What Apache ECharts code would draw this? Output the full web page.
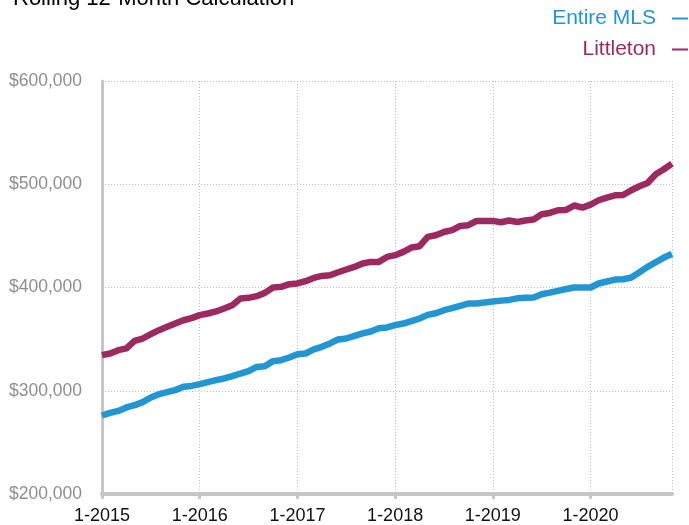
<!DOCTYPE html>
<html>
<head>
<meta charset="utf-8">
<script src="https://cdn.jsdelivr.net/npm/echarts@6/dist/echarts.min.js"></script>
<style>
html,body{margin:0;padding:0;background:#fff;}
#chart{width:689px;height:525px;}
</style>
</head>
<body>
<div id="chart"></div>
<script>
// Month categories 1-2015 .. 11-2020
var years = [2015, 2016, 2017, 2018, 2019, 2020];
var lastMonth = 11;
var categories = [];
years.forEach(function (y) {
  for (var m = 1; m <= 12; m++) {
    if (y === 2020 && m > lastMonth) break;
    categories.push(m + '-' + y);
  }
});

var seriesNames = ['Entire MLS', 'Littleton'];

var entireMLS = [
  276000, 278600, 280500, 283800, 286000, 289000, 293500, 296700, 298600, 300600, 303800, 304700,
  306400, 308300, 310300, 311900, 314100, 316700, 319000, 323100, 323800, 328700, 329600, 332200,
  335400, 336100, 340000, 342500, 345800, 349700, 350600, 353100, 355500, 357400, 360600, 361300,
  363500, 365100, 367400, 370000, 373500, 375100, 378000, 380000, 382200, 384500, 384500, 385500,
  386500, 387300, 388000, 389500, 390000, 390300, 393500, 395000, 396800, 398500, 400000, 400000,
  400000, 403900, 405800, 407700, 408000, 409700, 414800, 420000, 424500, 429000, 432500
];

var littleton = [
  334500, 336100, 339300, 341000, 348300, 350600, 354800, 358700, 361900, 365200, 368300, 370300,
  373200, 374800, 376800, 379700, 382900, 389400, 390000, 391600, 394800, 400000, 400600, 403200,
  403900, 406100, 409300, 411200, 411900, 414800, 417400, 419900, 423200, 424800, 424800, 429600,
  431300, 434500, 438700, 440000, 449000, 450600, 453800, 455500, 459600, 460300, 464500, 464500,
  464500, 463200, 464900, 463500, 464900, 465800, 471000, 472200, 474800, 475100, 479400, 477400,
  480300, 484500, 487100, 489300, 489600, 494200, 498100, 501300, 509700, 514500, 520000
];

var yTicks = [200000, 300000, 400000, 500000, 600000];

var BLUE = '#2196d3';
var MAROON = '#9c2a60';
var FONT = "'Liberation Sans', Arial, Helvetica, sans-serif";

function isJan(i) { return i % 12 === 0; }

var chart = echarts.init(document.getElementById('chart'), null, {renderer: 'canvas'});
chart.setOption({
  animation: false,
  backgroundColor: '#ffffff',
  textStyle: {fontFamily: FONT},
  title: {
    text: 'Rolling 12-Month Calculation',
    left: 8,
    top: -17,
    textStyle: {fontSize: 22, fontWeight: 'normal', color: '#000', fontFamily: FONT}
  },
  legend: {
    orient: 'vertical',
    right: 1,
    top: 8,
    padding: 0,
    align: 'right',
    itemGap: 10,
    itemWidth: 16,
    itemHeight: 2,
    icon: 'rect',
    selectedMode: false,
    data: [
      {name: seriesNames[0], textStyle: {color: BLUE}},
      {name: seriesNames[1], textStyle: {color: MAROON}}
    ],
    textStyle: {fontSize: 21, fontFamily: FONT, lineHeight: 21, padding: [0, 11, 0, 0]}
  },
  grid: {left: 102, right: 17, top: 81, bottom: 31, containLabel: false},
  xAxis: {
    type: 'category',
    data: categories,
    boundaryGap: false,
    axisLine: {show: true, lineStyle: {color: '#c6c6c6', width: 4}},
    axisTick: {
      show: true,
      interval: function (i) { return isJan(i); },
      length: 5,
      lineStyle: {color: '#c6c6c6', width: 3}
    },
    axisLabel: {
      interval: function (i) { return isJan(i); },
      color: '#111',
      fontSize: 18,
      fontFamily: FONT,
      margin: 13
    },
    splitLine: {
      show: true,
      interval: function (i) { return isJan(i) || i === categories.length - 1; },
      lineStyle: {color: '#bdbdbd', width: 1, type: [1, 2]}
    }
  },
  yAxis: {
    type: 'value',
    min: yTicks[0],
    max: yTicks[yTicks.length - 1],
    interval: 100000,
    axisLine: {show: true, lineStyle: {color: '#c6c6c6', width: 3}},
    axisTick: {show: false},
    axisLabel: {
      color: '#8e8e8e',
      fontSize: 17.5,
      fontFamily: FONT,
      margin: 20,
      formatter: function (v) { return '$' + v.toLocaleString('en-US'); }
    },
    splitLine: {show: true, lineStyle: {color: '#bdbdbd', width: 1, type: [1, 2]}}
  },
  series: [
    {
      name: seriesNames[0],
      type: 'line',
      data: entireMLS,
      showSymbol: false,
      symbol: 'none',
      color: BLUE,
      lineStyle: {width: 6.5, color: BLUE, join: 'round', cap: 'butt'},
      z: 3
    },
    {
      name: seriesNames[1],
      type: 'line',
      data: littleton,
      showSymbol: false,
      symbol: 'none',
      color: MAROON,
      lineStyle: {width: 6.5, color: MAROON, join: 'round', cap: 'butt'},
      z: 3
    }
  ]
});
</script>
</body>
</html>
